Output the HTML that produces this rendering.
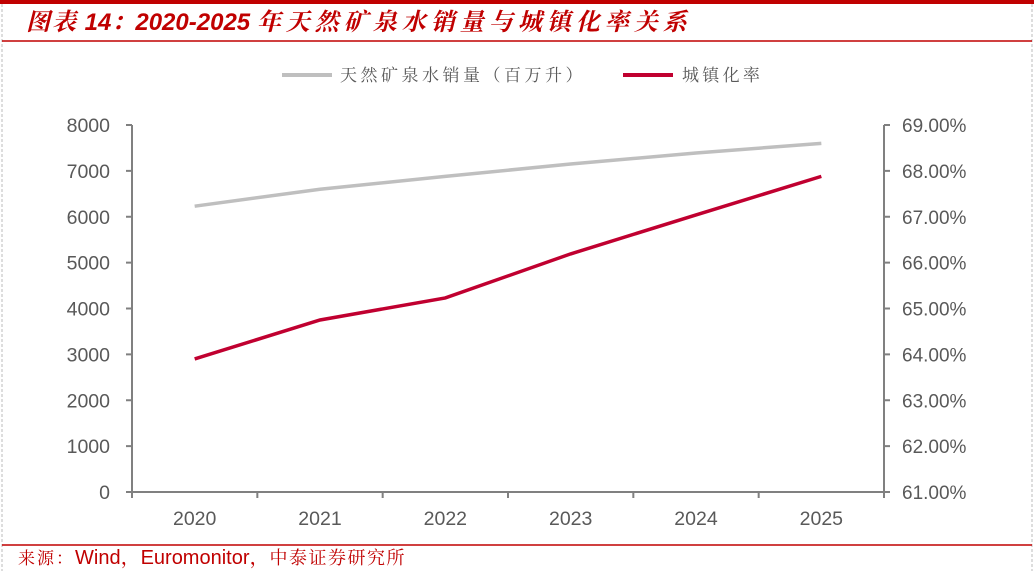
<!DOCTYPE html>
<html><head><meta charset="utf-8"><style>
body{margin:0;background:#fff;width:1034px;height:571px;overflow:hidden;font-family:"Liberation Sans","Noto Sans CJK SC",sans-serif}
</style></head><body>
<svg width="1034" height="571" xmlns="http://www.w3.org/2000/svg">
<rect x="0" y="0" width="1034" height="4" fill="#c00000"/>
<line x1="2" y1="4" x2="2" y2="571" stroke="#bbb" stroke-dasharray="3,2"/>
<line x1="1032" y1="4" x2="1032" y2="571" stroke="#bbb" stroke-dasharray="3,2"/>
<text x="26" y="30" font-size="24" font-weight="bold" font-style="italic" fill="#c00000" font-family="Liberation Sans, Noto Serif CJK SC, serif"><tspan letter-spacing="2">图表</tspan><tspan> 14：2020-2025 </tspan><tspan letter-spacing="5">年天然矿泉水销量与城镇化率关系</tspan></text>
<line x1="2" y1="41" x2="1032" y2="41" stroke="#c00000" stroke-width="1.5"/>
<line x1="2" y1="545" x2="1032" y2="545" stroke="#c00000" stroke-width="1.5"/>
<text x="18" y="564" font-size="17" fill="#c00000" font-family="Liberation Sans, Noto Serif CJK SC, serif"><tspan letter-spacing="2">来源：</tspan><tspan font-size="20">Wind，Euromonitor，</tspan><tspan font-size="18" letter-spacing="1.5">中泰证券研究所</tspan></text>
<g>
<line x1="282" y1="75" x2="332" y2="75" stroke="#bfbfbf" stroke-width="4"/>
<text x="340" y="81" font-size="17" letter-spacing="3.5" fill="#595959" font-family="Liberation Sans, Noto Serif CJK SC, serif">天然矿泉水销量（百万升）</text>
<line x1="623" y1="75" x2="673" y2="75" stroke="#c00030" stroke-width="4"/>
<text x="682" y="81" font-size="17" letter-spacing="3.3" fill="#595959" font-family="Liberation Sans, Noto Serif CJK SC, serif">城镇化率</text>
</g>
<g id="plot"></g>
</svg>
<script>
const categories=["2020","2021","2022","2023","2024","2025"];
const sales=[6230,6600,6880,7150,7390,7600];
const urban=[63.90,64.75,65.23,66.19,67.04,67.88];
const leftTicks=[0,1000,2000,3000,4000,5000,6000,7000,8000];
const rightTicks=[61,62,63,64,65,66,67,68,69];
const L=132,R=884,T=125,B=492;
const x=i=>L+(R-L)/categories.length*(i+0.5);
const yL=v=>B-(v-0)/8000*(B-T);
const yR=v=>B-(v-61)/8*(B-T);
const NS="http://www.w3.org/2000/svg";
const g=document.getElementById('plot');
function mk(t,a){const e=document.createElementNS(NS,t);for(const k in a)e.setAttribute(k,a[k]);g.appendChild(e);return e;}
let e;
e=mk('line',{x1:L,y1:T,x2:L,y2:B,stroke:'#808080','stroke-width':2});


e=mk('line',{x1:R,y1:T,x2:R,y2:B,stroke:'#808080','stroke-width':2});


e=mk('line',{x1:L,y1:B,x2:R,y2:B,stroke:'#808080','stroke-width':2});


leftTicks.forEach(v=>{
  e=mk('line',{x1:L-6,y1:yL(v),x2:L,y2:yL(v),stroke:'#808080','stroke-width':2});
  
  
  e=mk('text',{x:L-22,y:yL(v)+7,'font-size':19.5,fill:'#595959','text-anchor':'end'});
  e.textContent=v;
  
  
});
rightTicks.forEach(v=>{
  e=mk('line',{x1:R,y1:yR(v),x2:R+6,y2:yR(v),stroke:'#808080','stroke-width':2});
  
  
  e=mk('text',{x:R+18,y:yR(v)+7,'font-size':19,fill:'#595959'});
  e.textContent=v.toFixed(2)+'%';
  
  
});
for(let i=0;i<=categories.length;i++){
  const xx=L+(R-L)/categories.length*i;
  e=mk('line',{x1:xx,y1:B,x2:xx,y2:B+6,stroke:'#808080','stroke-width':2});
  
  
}
categories.forEach((c,i)=>{
  e=mk('text',{x:x(i),y:525,'font-size':19.5,fill:'#595959','text-anchor':'middle'});
  e.textContent=c;
  
  
});
e=mk('polyline',{points:sales.map((v,i)=>x(i)+','+yL(v)).join(' '),fill:'none',stroke:'#bfbfbf','stroke-width':3.5});


e=mk('polyline',{points:urban.map((v,i)=>x(i)+','+yR(v)).join(' '),fill:'none',stroke:'#c00030','stroke-width':3.5});


</script>
</body></html>
